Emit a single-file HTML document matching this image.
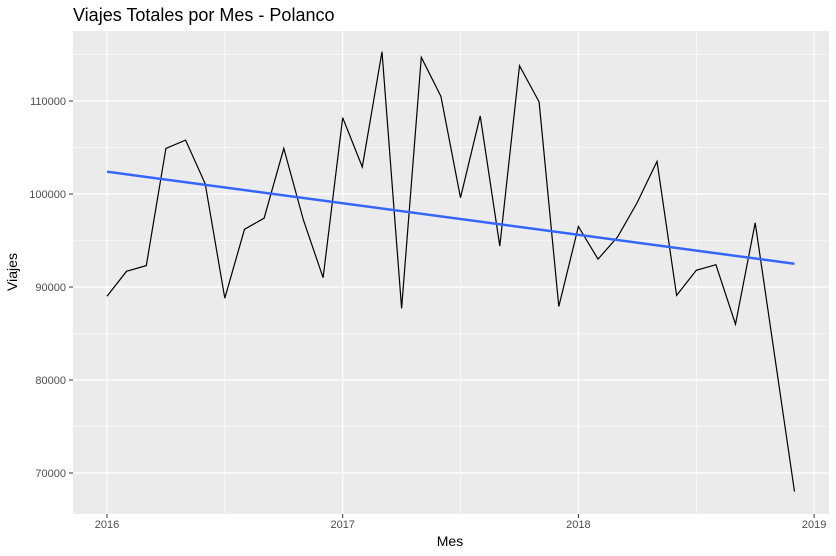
<!DOCTYPE html>
<html><head><meta charset="utf-8"><style>
body{margin:0;background:#fff;font-family:"Liberation Sans",sans-serif}
svg{display:block}
</style></head><body>
<svg id="chart" width="836" height="556">
<text x="73" y="21" font-size="18" fill="#000">Viajes Totales por Mes - Polanco</text>
<rect x="73" y="31" width="756" height="483" fill="#ebebeb"/>
<g id="grid"></g><g id="marks"></g><g id="axes"></g>
<text x="450" y="546" font-size="14" text-anchor="middle">Mes</text>
<text transform="translate(17,272) rotate(-90)" font-size="14" text-anchor="middle">Viajes</text>
</svg>
<script>
const yTicks=[70000,80000,90000,100000,110000];
const yMinor=[65000,75000,85000,95000,105000,115000];
const xTicks=[2016,2017,2018,2019];
const xMinor=[2016.5,2017.5,2018.5];
const values=[89000,91700,92300,104900,105800,101100,88800,96200,97400,104900,97200,91000,108200,102900,115300,87700,114700,110500,99600,108400,94400,113800,109900,87900,96500,93000,95400,99100,103500,89100,91800,92400,86000,96900,82500,68000];
const trendStart=102400, trendEnd=92500;
const NS="http://www.w3.org/2000/svg";
const X=t=>107+(t-2016)*235.7;
const Y=v=>101+(110000-v)*0.0093;
function mk(tag,attrs,parent){const e=document.createElementNS(NS,tag);for(const k in attrs)e.setAttribute(k,attrs[k]);document.getElementById(parent).appendChild(e);return e;}
yMinor.forEach(v=>{const y=Y(v);if(y<31||y>514)return;const l=mk('line',{x1:73,x2:829,y1:y,y2:y,stroke:'#fff','stroke-width':0.6},'grid');

});
xMinor.forEach(t=>{const x=X(t);const l=mk('line',{x1:x,x2:x,y1:31,y2:514,stroke:'#fff','stroke-width':0.6},'grid');

});
yTicks.forEach(v=>{const y=Y(v);const l=mk('line',{x1:73,x2:829,y1:y,y2:y,stroke:'#fff','stroke-width':1.2},'grid');


const tk=mk('line',{x1:69,x2:73,y1:y,y2:y,stroke:'#333'},'axes');


const t=mk('text',{x:66,y:y+4,'font-size':11,fill:'#4d4d4d','text-anchor':'end'},'axes');t.textContent=v;

});
xTicks.forEach(v=>{const x=X(v);const l=mk('line',{x1:x,x2:x,y1:31,y2:514,stroke:'#fff','stroke-width':1.2},'grid');


const tk=mk('line',{x1:x,x2:x,y1:514,y2:518,stroke:'#333'},'axes');


const t=mk('text',{x:x,y:528,'font-size':11,fill:'#4d4d4d','text-anchor':'middle'},'axes');t.textContent=v;

});
const pts=values.map((v,i)=>X(2016+i/12).toFixed(1)+','+Y(v).toFixed(1)).join(' ');
const pl=mk('polyline',{points:pts,fill:'none',stroke:'#000','stroke-width':1.2},'marks');


const tl=mk('line',{x1:X(2016),y1:Y(trendStart),x2:X(2016+35/12),y2:Y(trendEnd),stroke:'#3366ff','stroke-width':2.5},'marks');


</script>
</body></html>
